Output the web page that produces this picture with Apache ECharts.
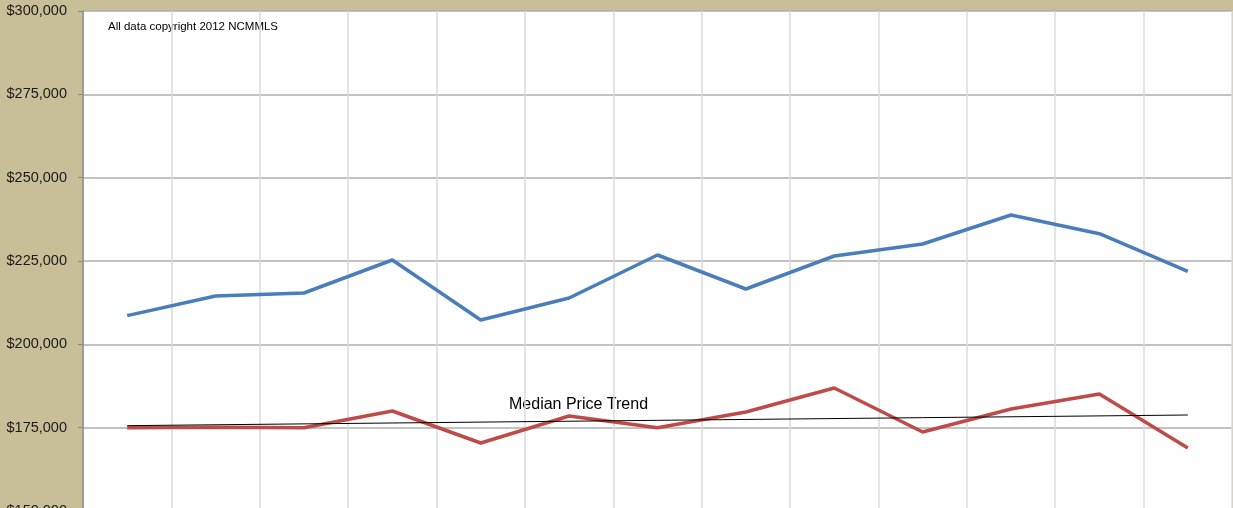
<!DOCTYPE html>
<html>
<head>
<meta charset="utf-8">
<script src="https://cdn.jsdelivr.net/npm/echarts@6/dist/echarts.min.js"></script>
<style>
html,body{margin:0;padding:0;background:#c8bf98;}
#chart{width:1233px;height:508px;}
</style>
</head>
<body>
<div id="chart"></div>
<script>
var categories = ['1','2','3','4','5','6','7','8','9','10','11','12','13'];
var averagePrice = [208600, 214500, 215400, 225300, 207300, 213900, 226800, 216600, 226500, 230100, 238800, 233200, 221900];
var medianPrice = [175000, 175100, 175000, 180000, 170400, 178500, 175000, 179700, 186900, 173700, 180600, 185100, 168900];
var medianTrend = [175600, null, null, null, null, null, null, null, null, null, null, null, 178800];
var yMin = 150000, yMax = 300000, yStep = 25000;

var chart = echarts.init(document.getElementById('chart'), null, {renderer:'canvas'});
chart.setOption({
  backgroundColor: '#c8bf98',
  animation: false,
  grid: {left: 83, top: 11, right: 1, height: 500, outerBoundsMode: 'none', containLabel: false,
         show: true, backgroundColor: '#ffffff', borderWidth: 0},
  xAxis: {
    type: 'category', data: categories, boundaryGap: true,
    axisLine: {show: false}, axisTick: {show: false}, axisLabel: {show: false},
    splitLine: {show: true, interval: 0, lineStyle: {color: '#dadada', width: 1.5}}
  },
  yAxis: {
    type: 'value', min: yMin, max: yMax, interval: yStep,
    axisLine: {show: true, lineStyle: {color: '#868686', width: 1.5}},
    axisTick: {show: true, length: 5, lineStyle: {color: '#868686'}},
    axisLabel: {
      margin: 16, color: '#1a1a1a', fontFamily: 'Liberation Sans', fontSize: 14.5,
      formatter: function (v) { return '$' + v.toLocaleString('en-US'); }
    },
    splitLine: {show: true, lineStyle: {color: '#aeaeae', width: 1.5}}
  },
  series: [
    {name: 'Average Price', type: 'line', data: averagePrice, symbol: 'none',
     lineStyle: {color: '#4a7ebb', width: 3.5}, z: 3},
    {name: 'Median Price', type: 'line', data: medianPrice, symbol: 'none',
     lineStyle: {color: '#be4b48', width: 3.5}, z: 3},
    {name: 'Median Price Trend', type: 'line', data: medianTrend, symbol: 'none', connectNulls: true,
     lineStyle: {color: '#000000', width: 1}, z: 4}
  ],
  graphic: [
    {type: 'text', left: 108, top: 21, style: {text: 'All data copyright 2012 NCMMLS', fill: '#000', font: '11.5px "Liberation Sans"'}},
    {type: 'text', left: 509, top: 397, style: {text: 'Median Price Trend', fill: '#000', font: '16px "Liberation Sans"'}}
  ]
});
</script>
</body>
</html>
